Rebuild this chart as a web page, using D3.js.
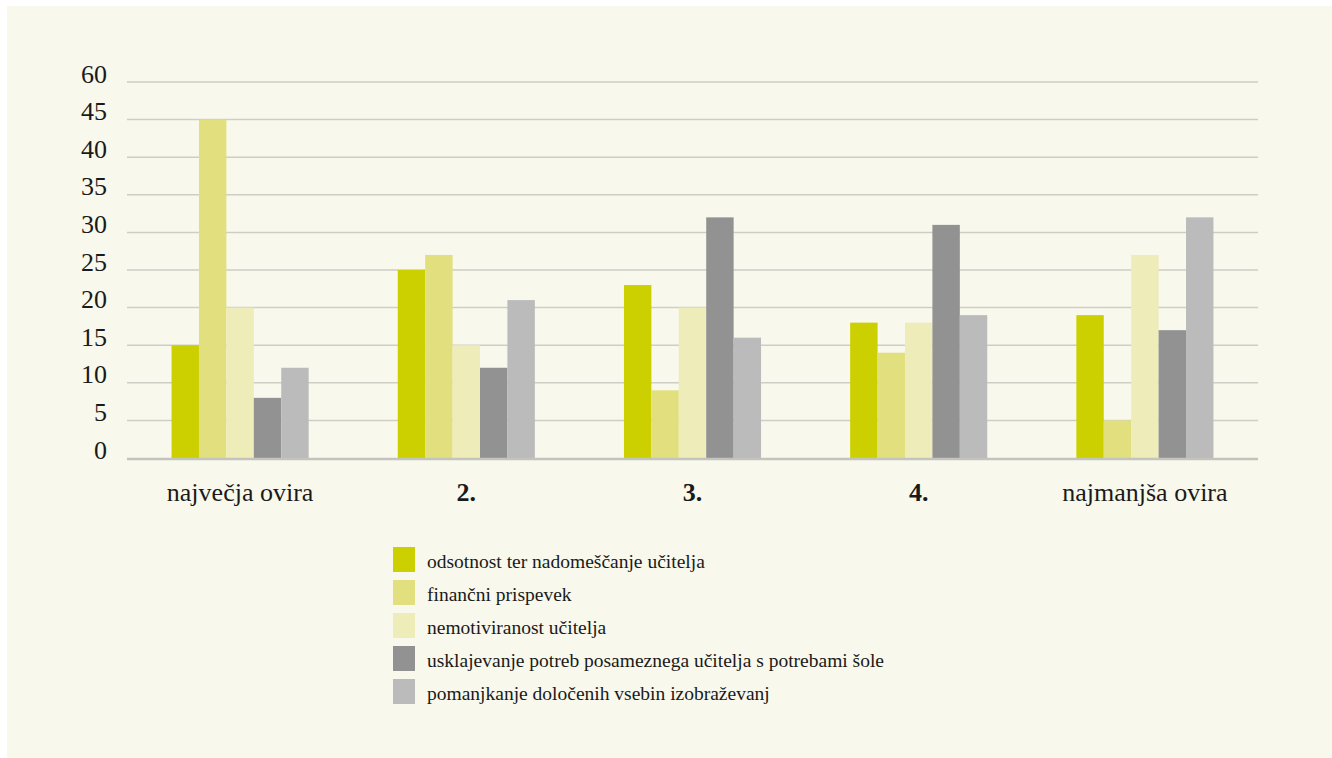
<!DOCTYPE html>
<html>
<head>
<meta charset="utf-8">
<script src="https://cdn.jsdelivr.net/npm/d3@7"></script>
<style>
  body { margin: 0; background: #ffffff; }
</style>
</head>
<body>
<div id="chart"></div>
<script>
// Categories (rank of obstacle) and the five series
var categories = ["največja ovira", "2.", "3.", "4.", "najmanjša ovira"];
var boldCategories = ["2.", "3.", "4."];
var seriesNames = [
  "odsotnost ter nadomeščanje učitelja",
  "finančni prispevek",
  "nemotiviranost učitelja",
  "usklajevanje potreb posameznega učitelja s potrebami šole",
  "pomanjkanje določenih vsebin izobraževanj"
];
var odsotnost = [15, 25, 23, 18, 19];
var financni = [45, 27, 9, 14, 5];
var nemotiviranost = [20, 15, 20, 18, 27];
var usklajevanje = [8, 12, 32, 31, 17];
var pomanjkanje = [12, 21, 16, 19, 32];
// tick positions and the labels printed next to them (top one reads 60)
var tickValues = [0, 5, 10, 15, 20, 25, 30, 35, 40, 45, 50];
var tickLabels = ["0", "5", "10", "15", "20", "25", "30", "35", "40", "45", "60"];

var colors = ["#cdd000", "#e2e07e", "#eeecb8", "#929292", "#bbbbbb"];
var serifFont = "'Liberation Serif', 'Times New Roman', serif";

var svgWidth = 1332;
var svgHeight = 758;
var margin = { top: 82, right: 74, bottom: 300, left: 127 };
var width = svgWidth - margin.left - margin.right;
var height = svgHeight - margin.top - margin.bottom;

var svg = d3.select("#chart")
  .append("svg")
  .attr("width", svgWidth)
  .attr("height", svgHeight);

// cream panel
svg.append("rect")
  .attr("x", 7)
  .attr("y", 6)
  .attr("width", svgWidth - 7)
  .attr("height", svgHeight - 6)
  .attr("fill", "#f8f8ec");

var chartGroup = svg.append("g")
  .attr("transform", `translate(${margin.left}, ${margin.top})`);

var allSeries = [odsotnost, financni, nemotiviranost, usklajevanje, pomanjkanje];
var rows = categories.map(function (c, i) {
  return { cat: c, values: allSeries.map(function (s, j) { return { key: j, value: s[i] }; }) };
});

var x0 = d3.scaleBand()
  .domain(categories)
  .range([0, width])
  .paddingInner(0.394)
  .paddingOuter(0.197);

var x1 = d3.scaleBand()
  .domain(d3.range(seriesNames.length))
  .range([0, x0.bandwidth()]);

var y = d3.scaleLinear()
  .domain([0, 50])
  .range([height, 0]);

// gridlines
chartGroup.append("g")
  .selectAll("line")
  .data(tickValues.slice(1))
  .enter()
  .append("line")
  .attr("x1", 0)
  .attr("x2", width)
  .attr("y1", d => y(d))
  .attr("y2", d => y(d))
  .attr("stroke", "#cfcdc6")
  .attr("stroke-width", 1.5);

// y axis labels, baseline sits on the gridline
var leftAxis = d3.axisLeft(y)
  .tickValues(tickValues)
  .tickSize(0)
  .tickPadding(20)
  .tickFormat((d, i) => tickLabels[i]);

var yAxis = chartGroup.append("g").call(leftAxis);
yAxis.select(".domain").remove();
yAxis.selectAll("text")
  .style("font-family", serifFont)
  .style("font-size", "26px")
  .attr("dy", "0")
  .attr("fill", "#1a1a1a");

// bars
chartGroup.selectAll(".group")
  .data(rows)
  .enter()
  .append("g")
  .attr("class", "group")
  .attr("transform", d => `translate(${x0(d.cat)}, 0)`)
  .selectAll("rect")
  .data(d => d.values)
  .enter()
  .append("rect")
  .attr("x", d => x1(d.key))
  .attr("y", d => y(d.value))
  .attr("width", x1.bandwidth())
  .attr("height", d => height - y(d.value))
  .attr("fill", d => colors[d.key]);

// baseline
chartGroup.append("line")
  .attr("x1", 0)
  .attr("x2", width)
  .attr("y1", height + 1)
  .attr("y2", height + 1)
  .attr("stroke", "#c4c4bf")
  .attr("stroke-width", 2.5);

// x axis labels
var bottomAxis = d3.axisBottom(x0).tickSize(0).tickPadding(25);
var xAxis = chartGroup.append("g")
  .attr("transform", `translate(0, ${height})`)
  .call(bottomAxis);
xAxis.select(".domain").remove();
xAxis.selectAll("text")
  .style("font-family", serifFont)
  .style("font-size", "26px")
  .style("font-weight", d => boldCategories.indexOf(d) >= 0 ? "bold" : "normal")
  .attr("fill", "#1a1a1a");

// legend
var legend = svg.append("g")
  .attr("transform", "translate(393, 547)");

var legendItems = legend.selectAll(".item")
  .data(seriesNames)
  .enter()
  .append("g")
  .attr("class", "item")
  .attr("transform", (d, i) => `translate(0, ${i * 33})`);

legendItems.append("rect")
  .attr("width", 22)
  .attr("height", 25)
  .attr("fill", (d, i) => colors[i]);

legendItems.append("text")
  .attr("x", 34)
  .attr("y", 21)
  .style("font-family", serifFont)
  .style("font-size", "19.5px")
  .attr("fill", "#1a1a1a")
  .text(d => d);
</script>
</body>
</html>
